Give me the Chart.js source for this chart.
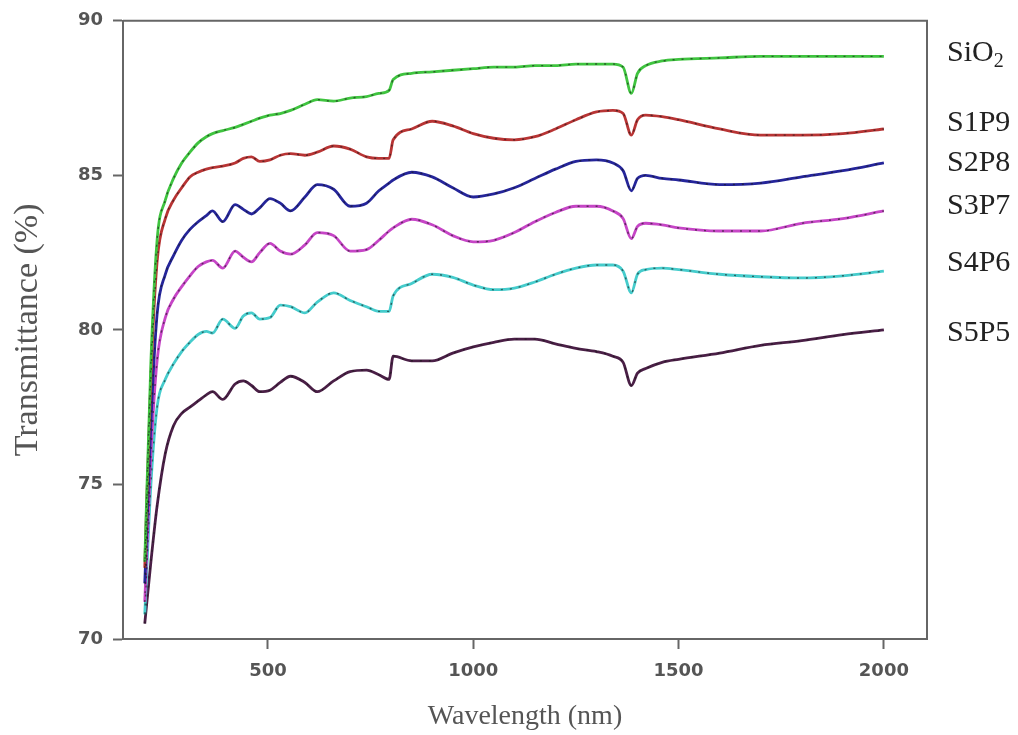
<!DOCTYPE html>
<html>
<head>
<meta charset="utf-8">
<script src="https://cdn.jsdelivr.net/npm/chart.js@4.4.1/dist/chart.umd.min.js"></script>
<style>
  body{margin:0;background:#fff;}
  #wrap{width:1018px;height:735px;position:relative;}
</style>
</head>
<body>
<div id="wrap"><canvas id="spectra"></canvas></div>
<script>
// wavelength grid (nm), shared by all curves
const wavelength = [200,215,230,250,270,290,310,330,350,365,390,420,440,460,480,505,530,555,590,620,
  660,700,740,770,795,805,850,900,950,1000,1050,1100,1150,1200,1250,1300,1340,1365,1385,1400,
  1420,1460,1500,1600,1700,1800,1900,2000];

// transmittance (%)
const sio2 = [72.5,79.0,82.9,84.2,84.9,85.4,85.75,86.05,86.25,86.35,86.45,86.55,86.65,86.75,86.85,86.95,87.0,87.1,87.3,87.45,
  87.4,87.5,87.55,87.65,87.75,88.1,88.3,88.35,88.4,88.45,88.5,88.5,88.55,88.55,88.6,88.6,88.6,88.5,87.65,88.3,
  88.55,88.7,88.75,88.8,88.85,88.85,88.85,88.85];
const s1p9 = [72.3,78.5,82.2,83.6,84.2,84.6,84.95,85.1,85.2,85.25,85.3,85.4,85.55,85.6,85.45,85.5,85.65,85.7,85.65,85.75,
  85.95,85.85,85.6,85.55,85.55,86.15,86.5,86.75,86.6,86.35,86.2,86.15,86.25,86.5,86.8,87.05,87.1,87.0,86.3,86.8,
  86.95,86.9,86.8,86.5,86.3,86.3,86.35,86.5];
const s2p8 = [71.8,77.0,80.5,81.8,82.4,82.9,83.25,83.5,83.7,83.85,83.5,84.05,83.9,83.75,83.95,84.25,84.1,83.85,84.3,84.7,
  84.55,84.0,84.1,84.5,84.75,84.85,85.1,84.95,84.6,84.3,84.4,84.6,84.9,85.2,85.45,85.5,85.4,85.15,84.5,84.9,
  85.0,84.9,84.85,84.7,84.75,84.95,85.15,85.4];
const s3p7 = [71.2,76.0,79.0,80.4,81.0,81.4,81.75,82.05,82.2,82.25,82.0,82.55,82.35,82.2,82.5,82.8,82.55,82.45,82.75,83.15,
  83.05,82.55,82.6,82.9,83.2,83.3,83.58,83.4,83.05,82.85,82.9,83.15,83.5,83.8,84.0,84.0,83.85,83.6,82.95,83.35,
  83.45,83.4,83.3,83.2,83.2,83.45,83.6,83.85];
const s4p6 = [70.8,75.0,77.5,78.4,78.9,79.3,79.6,79.85,79.95,79.9,80.35,80.05,80.45,80.55,80.35,80.4,80.8,80.75,80.55,80.9,
  81.2,80.95,80.75,80.6,80.6,81.1,81.5,81.8,81.7,81.45,81.3,81.35,81.55,81.8,82.0,82.1,82.1,81.9,81.2,81.8,
  81.95,82.0,81.95,81.8,81.72,81.68,81.75,81.9];
const s5p5 = [70.5,72.5,74.3,76.0,76.9,77.3,77.5,77.7,77.9,78.0,77.75,78.25,78.35,78.2,78.0,78.05,78.3,78.5,78.3,78.0,
  78.35,78.65,78.7,78.55,78.4,79.15,79.0,79.0,79.25,79.45,79.6,79.7,79.7,79.55,79.4,79.3,79.15,78.95,78.2,78.6,
  78.75,78.95,79.05,79.25,79.5,79.65,79.85,80.0];

const seriesNames = [['SiO','2'],['S1P9',''],['S2P8',''],['S3P7',''],['S4P6',''],['S5P5','']];
const seriesColors = ['#3fc43f','#b83434','#25259a','#c645c6','#45cccc','#4a1f46'];
const labelLevel = [88.95,86.7,85.4,84.0,82.15,79.9];   // where each name sits on the y axis
const xTicks = [500,1000,1500,2000];

const allSeries = [sio2,s1p9,s2p8,s3p7,s4p6,s5p5];

function points(vals){ return wavelength.map((w,j)=>({x:w,y:vals[j]})); }

// coloured curve
const datasets = allSeries.map((vals,i)=>({
  label: seriesNames[i].join(''),
  data: points(vals),
  borderColor: seriesColors[i],
  borderWidth: 2.8,
  pointRadius: 0,
  cubicInterpolationMode: 'monotone',
  fill: false,
  order: 1
}));
// dark speckle on top of each curve, like the scanned original
allSeries.forEach((vals,i)=>{
  datasets.push({
    label: seriesNames[i].join('')+' noise',
    data: points(vals),
    borderColor: 'rgba(25,25,25,0.6)',
    borderWidth: 1.4,
    borderDash: [2,7],
    pointRadius: 0,
    cubicInterpolationMode: 'monotone',
    fill: false,
    order: 0
  });
});

// box round the plot + names at the right
const framePlugin = {
  id:'frame',
  afterDraw(chart){
    const {ctx, chartArea:a, scales} = chart;
    ctx.save();
    ctx.strokeStyle='#666';
    ctx.lineWidth=2;
    ctx.beginPath();
    ctx.moveTo(a.left,a.top); ctx.lineTo(a.right,a.top); ctx.lineTo(a.right,a.bottom);
    ctx.stroke();
    ctx.fillStyle='#222';
    ctx.textBaseline='middle';
    ctx.textAlign='left';
    seriesNames.forEach((n,i)=>{
      const y = scales.y.getPixelForValue(labelLevel[i]);
      const x = a.right + 20;
      ctx.font='30px "Liberation Serif", "Times New Roman", serif';
      ctx.fillText(n[0], x, y);
      if(n[1]){
        const w = ctx.measureText(n[0]).width;
        ctx.font='20px "Liberation Serif", "Times New Roman", serif';
        ctx.fillText(n[1], x+w, y+8);
      }
    });
    ctx.restore();
  }
};

const tickFont = {family:'"DejaVu Sans", sans-serif', size:18, weight:'bold'};
const titleFont = {family:'"Liberation Serif", "Times New Roman", serif'};

new Chart(document.getElementById('spectra'),{
  type:'line',
  data:{datasets},
  options:{
    responsive:true,
    maintainAspectRatio:false,
    animation:false,
    layout:{padding:{top:19,right:91,left:0,bottom:0}},
    plugins:{legend:{display:false},tooltip:{enabled:false}},
    scales:{
      x:{
        type:'linear', min:147, max:2105,
        afterBuildTicks(s){ s.ticks = xTicks.map(v=>({value:v})); },
        afterFit(s){ s.height = 96; },
        ticks:{font:tickFont, color:'#555', padding:12, maxRotation:0, callback:v=>String(v)},
        grid:{drawOnChartArea:false, drawTicks:true, tickLength:10, tickWidth:2, tickColor:'#666'},
        border:{display:true, color:'#666', width:2},
        title:{display:true, text:'Wavelength (nm)', color:'#555', font:{...titleFont, size:28}, padding:{top:0,bottom:2}}
      },
      y:{
        min:70, max:90,
        ticks:{stepSize:5, font:tickFont, color:'#555', padding:10},
        afterFit(s){ s.width = 123; },
        grid:{drawOnChartArea:false, drawTicks:true, tickLength:10, tickWidth:2, tickColor:'#666'},
        border:{display:true, color:'#666', width:2},
        title:{display:true, text:'Transmittance (%)', color:'#555', font:{...titleFont, size:34}, padding:{top:8,bottom:0}}
      }
    }
  },
  plugins:[framePlugin]
});
</script>
</body>
</html>
